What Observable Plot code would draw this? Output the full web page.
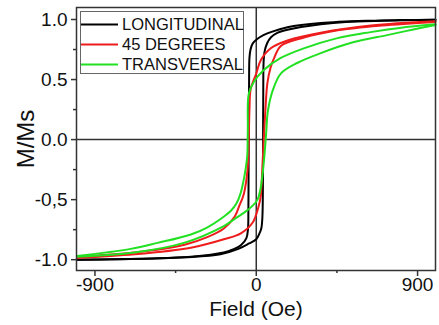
<!DOCTYPE html>
<html>
<head>
<meta charset="utf-8">
<script src="https://cdn.jsdelivr.net/npm/d3@7"></script>
<script src="https://cdn.jsdelivr.net/npm/@observablehq/plot@0.6"></script>
<style>
  body { margin: 0; background: #fff; }
  #wrap { position: relative; width: 439px; height: 325px; font-family: Arial, "Liberation Sans", sans-serif; }
  #legend { position: absolute; left: 80px; top: 11px; width: 162px; height: 61px; border: 1.5px solid #666; background: #fff; }
  .entry { position: absolute; left: 0; height: 20px; display: flex; align-items: center; }
  .entry svg { display: block; }
  .entry span { font-size: 16.5px; margin-left: 4px; color: #111; line-height: 20px; }
</style>
</head>
<body>
<div id="wrap"><div id="chart"></div><div id="legend"></div></div>
<script>
// ---- data ----
const seriesNames = ["LONGITUDINAL", "45 DEGREES", "TRANSVERSAL"];
const seriesColors = ["#000000", "#ee1c1c", "#22e022"];

// LONGITUDINAL, descending branch (field +1000 -> -1000)
const longDescH = [1000, 800, 640, 360, 174, 81, 40, 7, -20, -32, -38, -40, -41, -42, -43, -44, -46, -55, -86, -130, -181, -365, -600, -1000];
const longDescM = [0.998, 0.995, 0.99, 0.97, 0.935, 0.895, 0.87, 0.84, 0.80, 0.75, 0.68, 0.5, 0.2, 0.0, -0.3, -0.6, -0.74, -0.82, -0.88, -0.915, -0.94, -0.975, -0.99, -1.0];
// LONGITUDINAL, ascending branch (field -1000 -> +1000)
const longAscH = [-1000, -700, -400, -200, -100, -40, 0, 15, 28, 34, 37, 38, 39, 41, 46, 60, 81, 120, 174, 360, 500, 700, 1000];
const longAscM = [-1.0, -0.995, -0.98, -0.955, -0.91, -0.865, -0.83, -0.79, -0.74, -0.65, -0.4, 0.0, 0.4, 0.65, 0.73, 0.80, 0.85, 0.89, 0.915, 0.96, 0.98, 0.99, 0.998];

// 45 DEGREES
const degDescH = [1000, 640, 360, 174, 81, 25, 0, -31, -38, -42, -48, -69, -97, -120, -181, -270, -400, -680, -1000];
const degDescM = [0.985, 0.95, 0.89, 0.825, 0.76, 0.66, 0.55, 0.42, 0.25, 0.0, -0.24, -0.45, -0.56, -0.64, -0.74, -0.81, -0.875, -0.94, -0.975];
const degAscH = [-1000, -680, -365, -181, -86, -20, 14, 25, 35, 42, 53, 62, 80, 100, 137, 266, 455, 700, 1000];
const degAscM = [-0.985, -0.955, -0.9, -0.83, -0.78, -0.69, -0.55, -0.47, -0.2, 0.0, 0.3, 0.47, 0.6, 0.68, 0.78, 0.85, 0.91, 0.95, 0.98];

// TRANSVERSAL
const trDescH = [1000, 800, 638, 453, 265, 137, 42, -14, -42, -47, -48, -50, -60, -72, -88, -110, -140, -180, -272, -365, -550, -700, -1000];
const trDescM = [0.96, 0.93, 0.895, 0.845, 0.76, 0.68, 0.58, 0.48, 0.38, 0.1, 0.0, -0.13, -0.25, -0.35, -0.45, -0.53, -0.59, -0.64, -0.73, -0.79, -0.86, -0.91, -0.97];
const trAscH = [-1000, -680, -404, -181, -120, -60, -20, 7, 25, 40, 50, 55, 65, 92, 137, 231, 360, 540, 730, 870, 1000];
const trAscM = [-0.975, -0.94, -0.86, -0.72, -0.66, -0.6, -0.55, -0.5, -0.4, -0.22, -0.05, 0.05, 0.24, 0.41, 0.55, 0.64, 0.72, 0.81, 0.87, 0.915, 0.955];

// axis ticks
const yTicks = [-1, -0.5, 0, 0.5, 1];
const yTickLabels = ["-1.0", "-0,5", "0.0", "0.5", "1.0"];
const yMinorTicks = [-0.75, -0.25, 0.25, 0.75];
const xTicks = [-900, 0, 900];
const xTickLabels = ["-900", "0", "900"];
const xMinorTicks = [-450, 450];

// ---- build table ----
const branches = [
  [0, "desc", longDescH, longDescM], [0, "asc", longAscH, longAscM],
  [1, "desc", degDescH, degDescM], [1, "asc", degAscH, degAscM],
  [2, "desc", trDescH, trDescM], [2, "asc", trAscH, trAscM]
];
const rows = [];
for (const [s, b, hs, ms] of branches) {
  hs.forEach((h, i) => rows.push({series: seriesNames[s], key: seriesNames[s] + b, H: h, M: ms[i]}));
}

const font = 'Arial, "Liberation Sans", sans-serif';
const chart = Plot.plot({
  width: 439,
  height: 325,
  marginLeft: 76,
  marginRight: 4,
  marginTop: 7,
  marginBottom: 55,
  style: {fontFamily: font, background: "#fff", color: "#111"},
  x: {domain: [-1003, 1000]},
  y: {domain: [-1.09, 1.10]},
  color: {domain: seriesNames, range: seriesColors},
  marks: [
    Plot.ruleY([0], {stroke: "#333", strokeWidth: 1.5}),
    Plot.ruleX([0], {stroke: "#333", strokeWidth: 1.5}),
    Plot.line(rows, {x: "H", y: "M", z: "key", stroke: "series", strokeWidth: 2, curve: "catmull-rom"}),
    Plot.frame({stroke: "#333", strokeWidth: 1.5}),
    Plot.axisY({ticks: yTicks, tickFormat: (d) => yTickLabels[yTicks.indexOf(d)], tickSize: 5, tickPadding: 4, fontSize: 19, label: null, stroke: "#333", strokeWidth: 1.5}),
    Plot.axisY({ticks: yMinorTicks, tickSize: 3, text: null, label: null, stroke: "#333", strokeWidth: 1.5}),
    Plot.axisX({ticks: xTicks, tickFormat: (d) => xTickLabels[xTicks.indexOf(d)], tickSize: 6, tickPadding: 1, fontSize: 19, label: null, stroke: "#333", strokeWidth: 1.5}),
    Plot.axisX({ticks: xMinorTicks, tickSize: 3, text: null, label: null, stroke: "#333", strokeWidth: 1.5}),
    Plot.text(["Field (Oe)"], {text: d => d, frameAnchor: "bottom", textAnchor: "middle", lineAnchor: "middle", dy: 39, fontSize: 21, fill: "#111"}),
    Plot.text(["M/Ms"], {text: d => d, frameAnchor: "left", textAnchor: "middle", lineAnchor: "middle", dx: -50, rotate: -90, fontSize: 24, fill: "#111"})
  ]
});
document.getElementById("chart").appendChild(chart);

// ---- legend ----
const legend = document.getElementById("legend");
seriesNames.forEach((name, i) => {
  const e = document.createElement("div");
  e.className = "entry";
  e.style.top = (2 + i * 20) + "px";
  e.innerHTML = `<svg width="37" height="20"><line x1="0" x2="37" y1="10.5" y2="10.5" stroke="${seriesColors[i]}" stroke-width="2"/></svg><span>${name}</span>`;
  legend.appendChild(e);
});
</script>
</body>
</html>
